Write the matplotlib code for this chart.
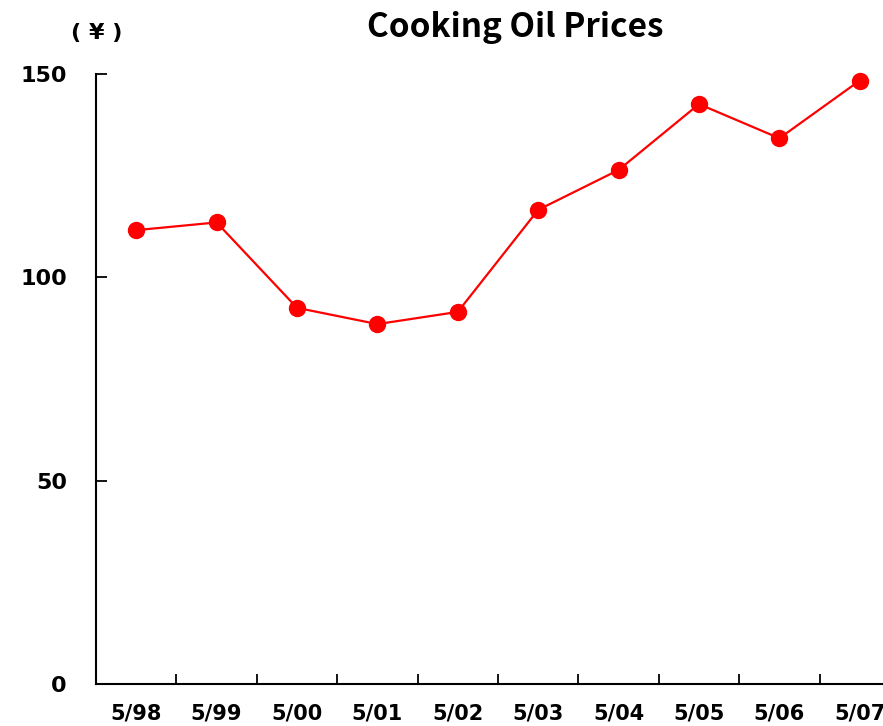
import matplotlib
matplotlib.use("Agg")
import matplotlib.pyplot as plt
import numpy as np

# price data, May of each year
months = ["5/98", "5/99", "5/00", "5/01", "5/02", "5/03", "5/04", "5/05", "5/06", "5/07"]
prices = [111.6, 113.5, 92.5, 88.5, 91.5, 116.6, 126.4, 142.6, 134.2, 148.4]
yticks = [0, 50, 100, 150]

plt.rcParams["font.family"] = ["DejaVu Sans", "Noto Sans CJK JP"]

fig = plt.figure(figsize=(8.83, 7.26), dpi=100)
ax = fig.add_axes([96 / 883, 42 / 726, 804 / 883, 610 / 726])

x = np.arange(len(months))
ax.plot(x, prices, color="red", lw=1.6, marker="o", ms=11.5,
        markerfacecolor="red", markeredgecolor="red", clip_on=False, zorder=3)

ax.set_xlim(-0.5, len(months) - 0.5)
ax.set_ylim(0, 150)

# category ticks sit on the boundaries, labels in the middle
ax.set_xticks(x[:-1] + 0.5)
ax.set_xticklabels([])
ax.set_xticks(x, minor=True)
ax.set_xticklabels(months, minor=True, fontsize=15, fontweight="bold")
ax.tick_params(axis="x", which="major", direction="in", length=7, width=1.3)
ax.tick_params(axis="x", which="minor", length=0, pad=14)

ax.set_yticks(yticks)
ax.set_yticklabels([str(v) for v in yticks], fontsize=16, fontweight="bold")
ax.tick_params(axis="y", direction="in", length=8, width=1.3, pad=21)

for side in ["top", "right"]:
    ax.spines[side].set_visible(False)
for side in ["left", "bottom"]:
    ax.spines[side].set_linewidth(1.5)

fig.text(515 / 883, 1 - 28 / 726, "Cooking Oil Prices", ha="center", va="center",
         fontsize=24, fontweight="bold", family=["Noto Sans CJK JP", "DejaVu Sans"])
fig.text(97 / 883, 1 - 33 / 726, "( ¥ )", ha="center", va="center",
         fontsize=16, fontweight="bold")

fig.savefig("out.png", dpi=100, facecolor="white")
